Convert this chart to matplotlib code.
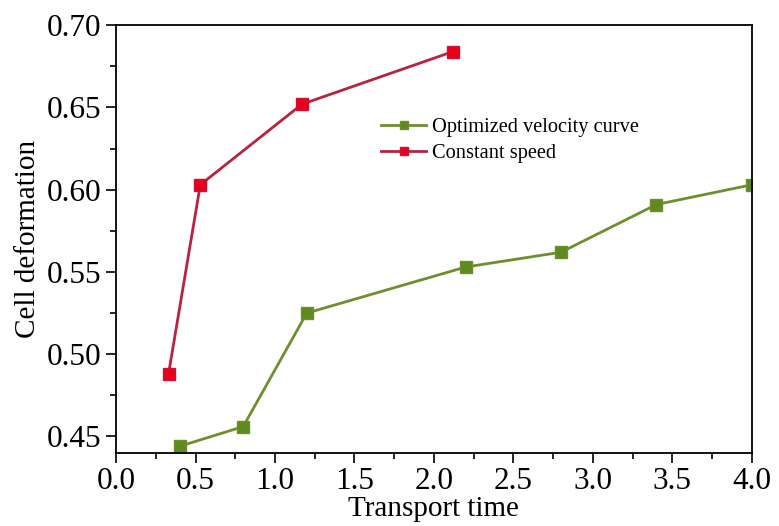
import numpy as np
import matplotlib
matplotlib.use('Agg')
import matplotlib.pyplot as plt
from matplotlib.ticker import MultipleLocator

plt.rcParams['font.family'] = ['Liberation Serif', 'DejaVu Serif']

# Transport time vs. cell deformation for the two motion profiles
opt_time = [0.4, 0.8, 1.2, 2.2, 2.8, 3.4, 4.0]
opt_deform = [0.444, 0.456, 0.525, 0.553, 0.562, 0.591, 0.603]

const_time = [0.33, 0.53, 1.17, 2.12]
const_deform = [0.488, 0.603, 0.652, 0.684]

fig = plt.figure(figsize=(7.79, 5.26), dpi=100)
ax = fig.add_axes([0.149, 0.139, 0.816, 0.813])

ax.plot(opt_time, opt_deform, color='#6f8f2e', lw=2, marker='s', ms=8,
        mfc='#5e8a1e', mec='#6f8f2e', label='Optimized velocity curve')
ax.plot(const_time, const_deform, color='#b8243e', lw=2, marker='s', ms=8,
        mfc='#e8001e', mec='#d01030', label='Constant speed')

ax.set_xlim(0, 4.0)
ax.set_ylim(0.44, 0.70)
ax.xaxis.set_major_locator(MultipleLocator(0.5))
ax.xaxis.set_minor_locator(MultipleLocator(0.25))
ax.yaxis.set_major_locator(MultipleLocator(0.05))
ax.yaxis.set_minor_locator(MultipleLocator(0.025))
ax.xaxis.set_major_formatter(plt.FormatStrFormatter('%.1f'))
ax.yaxis.set_major_formatter(plt.FormatStrFormatter('%.2f'))

ax.tick_params(which='major', direction='out', length=7, width=1.2,
               labelsize=22.5, top=False, right=False)
ax.tick_params(which='minor', direction='out', length=4, width=1.2,
               top=False, right=False)
for s in ax.spines.values():
    s.set_linewidth(1.3)

ax.set_xlabel('Transport time', fontsize=21, labelpad=0)
ax.set_ylabel('Cell deformation', fontsize=21, labelpad=4)

ax.legend(loc='upper left', bbox_to_anchor=(0.388, 0.826), frameon=False,
          fontsize=14.7, handlelength=2.2, markerscale=0.7,
          handletextpad=0.3, labelspacing=0.3)

fig.savefig('out.png', dpi=100)
